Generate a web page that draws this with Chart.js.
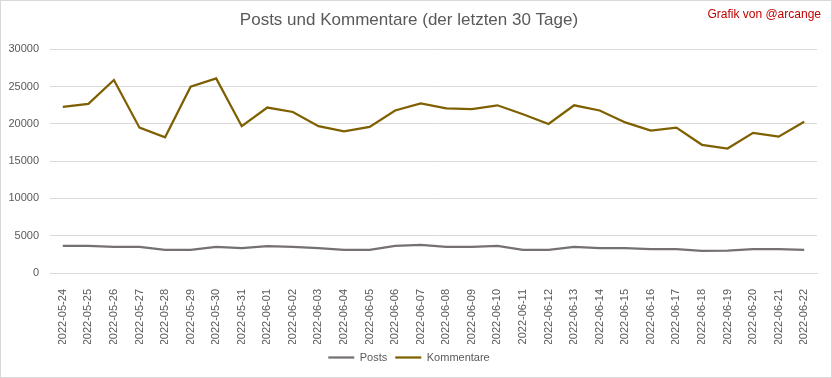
<!DOCTYPE html>
<html>
<head>
<meta charset="utf-8">
<script src="https://cdn.jsdelivr.net/npm/chart.js@4"></script>
<style>
	html, body { margin: 0; padding: 0; background: #fff; }
	#wrap {
		position: relative;
		width: 832px;
		height: 378px;
		box-sizing: border-box;
		border: 1px solid #d9d9d9;
	}
	#credit {
		position: absolute;
		right: 10px;
		top: 6px;
		font-family: "Liberation Sans", sans-serif;
		font-size: 12px;
		color: #c00000;
	}
</style>
</head>
<body>
<div id="wrap">
	<canvas id="myLineChart" width="830" height="376"></canvas>
	<div id="credit">Grafik von @arcange</div>
</div>
<script>
const dates = [
	"2022-05-24", "2022-05-25", "2022-05-26", "2022-05-27", "2022-05-28",
	"2022-05-29", "2022-05-30", "2022-05-31", "2022-06-01", "2022-06-02",
	"2022-06-03", "2022-06-04", "2022-06-05", "2022-06-06", "2022-06-07",
	"2022-06-08", "2022-06-09", "2022-06-10", "2022-06-11", "2022-06-12",
	"2022-06-13", "2022-06-14", "2022-06-15", "2022-06-16", "2022-06-17",
	"2022-06-18", "2022-06-19", "2022-06-20", "2022-06-21", "2022-06-22",
];
const posts = [
	3650, 3650, 3500, 3500, 3100, 3100, 3500, 3350, 3600, 3500,
	3350, 3100, 3100, 3650, 3780, 3500, 3500, 3650, 3100, 3100,
	3500, 3350, 3350, 3200, 3200, 2980, 3000, 3200, 3200, 3100,
];
const kommentare = [
	22300, 22700, 25900, 19500, 18200, 25000, 26100, 19700, 22200, 21600,
	19700, 19000, 19600, 21800, 22750, 22100, 22000, 22500, 21300, 20000,
	22500, 21800, 20200, 19100, 19500, 17200, 16700, 18800, 18300, 20300,
];
const yTicks = [0, 5000, 10000, 15000, 20000, 25000, 30000];

const font = "'Liberation Sans', sans-serif";
const textColor = "#595959";
const gridColor = "#d9d9d9";

const lineData = {
	labels: dates,
	datasets: [
		{
			label: "Posts",
			data: posts,
			borderColor: "#767171",
			backgroundColor: "#767171",
			borderWidth: 2.25,
			pointRadius: 0,
			tension: 0,
		},
		{
			label: "Kommentare",
			data: kommentare,
			borderColor: "#7f6000",
			backgroundColor: "#7f6000",
			borderWidth: 2.25,
			pointRadius: 0,
			tension: 0,
		},
	],
};

const lineConfig = {
	type: "line",
	data: lineData,
	options: {
		responsive: false,
		animation: false,
		layout: {
			padding: { left: 0, right: 14, top: 0, bottom: 4 },
		},
		plugins: {
			title: {
				display: true,
				text: "Posts und Kommentare (der letzten 30 Tage)",
				color: textColor,
				font: { family: font, size: 17, weight: "normal" },
				padding: { top: 9, bottom: 19 },
			},
			legend: {
				position: "bottom",
				labels: {
					color: textColor,
					font: { family: font, size: 11 },
					usePointStyle: true,
					pointStyle: "line",
					pointStyleWidth: 26,
					padding: 8,
				},
			},
			tooltip: { enabled: false },
		},
		scales: {
			x: {
				offset: true,
				grid: { display: false },
				border: { display: true, color: gridColor, width: 1 },
				ticks: {
					color: textColor,
					font: { family: font, size: 11 },
					maxRotation: 90,
					minRotation: 90,
					autoSkip: false,
					padding: 8,
				},
				afterFit: function (scale) {
					scale.height = 71;
				},
			},
			y: {
				min: 0,
				max: 30000,
				afterBuildTicks: function (scale) {
					scale.ticks = yTicks.map(function (v) {
						return { value: v };
					});
				},
				grid: { color: gridColor, drawTicks: false },
				border: { display: false },
				ticks: {
					color: textColor,
					font: { family: font, size: 11 },
					padding: 11,
					callback: function (value) {
						return String(value);
					},
				},
				afterFit: function (scale) {
					scale.width = 49;
				},
			},
		},
	},
};

const myLineChart = new Chart(
	document.getElementById("myLineChart"),
	lineConfig
);
</script>
</body>
</html>
